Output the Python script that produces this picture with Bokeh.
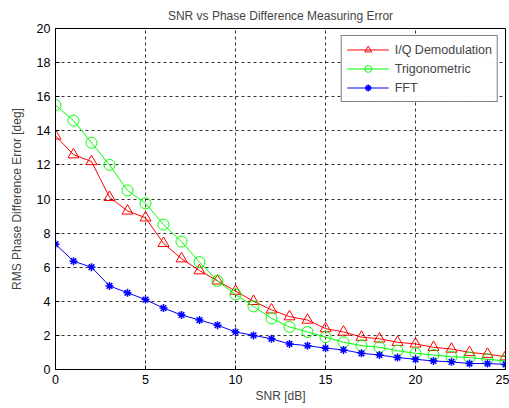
from bokeh.plotting import figure
from bokeh.models import Legend, LegendItem, FixedTicker, Range1d
from bokeh.embed import file_html
from bokeh.resources import INLINE

snr = list(range(26))
iq = [13.7, 12.6, 12.2, 10.1, 9.3, 8.9, 7.4, 6.5, 5.8, 5.2, 4.6, 4.0, 3.5, 3.1, 2.9,
      2.4, 2.2, 1.9, 1.8, 1.6, 1.5, 1.3, 1.2, 1.0, 0.9, 0.75]
trig = [15.5, 14.6, 13.3, 12.0, 10.5, 9.75, 8.5, 7.5, 6.3, 5.2, 4.4, 3.7, 3.0, 2.5, 2.2,
        1.9, 1.6, 1.4, 1.3, 1.1, 0.95, 0.85, 0.75, 0.7, 0.6, 0.5]
fft = [7.35, 6.35, 6.0, 4.9, 4.5, 4.1, 3.6, 3.2, 2.9, 2.6, 2.2, 2.0, 1.8, 1.5, 1.4,
       1.25, 1.15, 0.95, 0.85, 0.7, 0.6, 0.5, 0.45, 0.35, 0.35, 0.3]
labels = ["I/Q Demodulation", "Trigonometric", "FFT"]
xticks = [0, 5, 10, 15, 20, 25]
yticks = list(range(0, 21, 2))

FONT = "Liberation Sans"

p = figure(width=509, height=408, output_backend="svg", toolbar_location=None,
           x_range=Range1d(0, 25), y_range=Range1d(0, 20),
           title="SNR vs Phase Difference Measuring Error",
           min_border_left=55, min_border_right=4, min_border_top=28, min_border_bottom=39)
p.background_fill_color = "white"
p.border_fill_color = "white"
p.outline_line_color = "black"
p.outline_line_width = 1

p.title.align = "center"
p.title.text_font = FONT
p.title.text_font_style = "normal"
p.title.text_font_size = "12px"
p.title.offset = 0
p.title.standoff = 12

for ax in (p.xaxis[0], p.yaxis[0]):
    ax.axis_label_text_font = FONT
    ax.axis_label_text_font_style = "normal"
    ax.axis_label_text_font_size = "12px"
    ax.major_label_text_font = FONT
    ax.major_label_text_font_size = "12.5px"
    ax.major_label_text_color = "black"
    ax.major_tick_in = 4
    ax.major_tick_out = 0
    ax.minor_tick_line_color = None
    ax.axis_line_color = "black"

p.xaxis.axis_label = "SNR [dB]"
p.yaxis.axis_label = "RMS Phase Difference Error [deg]"
p.xaxis.ticker = FixedTicker(ticks=xticks)
p.yaxis.ticker = FixedTicker(ticks=yticks)
p.xaxis.axis_label_standoff = 2
p.yaxis.axis_label_standoff = 10

p.grid.grid_line_color = "black"
p.grid.grid_line_dash = "3 3"
p.grid.grid_line_alpha = 0.8

r1l = p.line(snr, iq, line_color="red", line_width=1)
r1m = p.scatter(snr, iq, marker="triangle", size=11, fill_color=None, line_color="red", line_width=1)
r2l = p.line(snr, trig, line_color="#00ff00", line_width=1)
r2m = p.scatter(snr, trig, marker="circle", size=11, fill_color=None, line_color="#00ff00", line_width=1)
r3l = p.line(snr, fft, line_color="blue", line_width=1)
r3m = p.scatter(snr, fft, marker="asterisk", size=8, line_color="blue", line_width=1.5)

legend = Legend(items=[
    LegendItem(label=labels[0], renderers=[r1l, r1m]),
    LegendItem(label=labels[1], renderers=[r2l, r2m]),
    LegendItem(label=labels[2], renderers=[r3l, r3m]),
], location="top_right")
legend.label_text_font = FONT
legend.label_text_font_size = "12.5px"
legend.border_line_color = "black"
legend.border_line_width = 1
legend.glyph_width = 42
legend.glyph_height = 17
legend.label_height = 17
legend.spacing = 2
legend.padding = 5
legend.margin = 7
legend.label_standoff = 6
p.add_layout(legend)

open("out.html", "w").write(file_html(p, INLINE))
